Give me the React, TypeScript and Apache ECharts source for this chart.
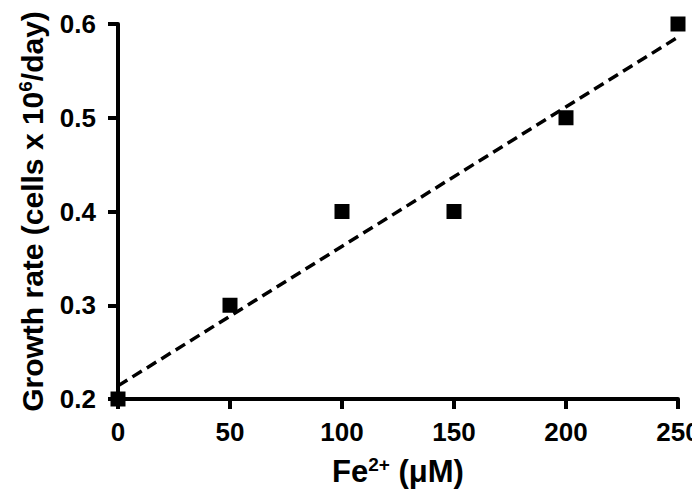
import React, { useEffect, useRef } from "react";
import * as echarts from "echarts";

const ironConc = [0, 50, 100, 150, 200, 250];
const growthRate = [0.2, 0.3, 0.4, 0.4, 0.5, 0.6];
const fitX = [0, 250];
const fitY = [0.214, 0.586];
const xTicks = [0, 50, 100, 150, 200, 250];
const yTicks = [0.2, 0.3, 0.4, 0.5, 0.6];

const FONT = "'Liberation Sans', Arial, sans-serif";

export default function App() {
  const ref = useRef<HTMLDivElement>(null);
  useEffect(() => {
    if (!ref.current) return;
    const chart = echarts.init(ref.current, null, { renderer: "svg" });
    chart.setOption({
      animation: false,
      grid: { left: 105, right: 30, top: 16, bottom: 111 },
      xAxis: {
        type: "value",
        min: xTicks[0],
        max: xTicks[xTicks.length - 1],
        interval: xTicks[1] - xTicks[0],
        axisLine: { show: true, lineStyle: { color: "#000", width: 4 } },
        axisTick: { show: true, length: 10, lineStyle: { color: "#000", width: 4 } },
        splitLine: { show: false },
        axisLabel: { color: "#000", fontFamily: FONT, fontWeight: "bold", fontSize: 26, margin: 20 },
        name: "Fe{sup|2+} {mu|(\u03bc}M)",
        nameLocation: "middle",
        nameGap: 56,
        nameTextStyle: {
          color: "#000",
          fontFamily: FONT,
          fontWeight: "bold",
          fontSize: 31,
          rich: {
            sup: { fontSize: 19, fontWeight: "bold", fontFamily: FONT, color: "#000", verticalAlign: "bottom", padding: [0, 0, 13, 0] },
            mu: { fontSize: 31, fontWeight: "bold", fontFamily: FONT, color: "#000" },
          },
        },
      },
      yAxis: {
        type: "value",
        min: yTicks[0],
        max: yTicks[yTicks.length - 1],
        interval: 0.1,
        axisLine: { show: true, lineStyle: { color: "#000", width: 4 } },
        axisTick: { show: true, length: 10, lineStyle: { color: "#000", width: 4 } },
        splitLine: { show: false },
        axisLabel: {
          color: "#000",
          fontFamily: FONT,
          fontWeight: "bold",
          fontSize: 26,
          margin: 22,
        },
        name: "Growth rate (cells x 10{sup|6}/day)",
        nameLocation: "middle",
        nameGap: 70,
        nameTextStyle: {
          color: "#000",
          fontFamily: FONT,
          fontWeight: "bold",
          fontSize: 30,
          rich: {
            sup: { fontSize: 19, fontWeight: "bold", fontFamily: FONT, color: "#000", verticalAlign: "bottom", padding: [0, 0, 13, 0] },
          },
        },
      },
      series: [
        {
          type: "line",
          data: fitX.map((x, i) => [x, fitY[i]]),
          showSymbol: false,
          symbol: "none",
          lineStyle: { color: "#000", width: 3.5, type: [11, 6] },
          z: 2,
          silent: true,
        },
        {
          type: "scatter",
          data: ironConc.map((x, i) => [x, growthRate[i]]),
          symbol: "rect",
          symbolSize: 15,
          itemStyle: { color: "#000", opacity: 1 },
          z: 3,
        },
      ],
    });
    return () => chart.dispose();
  }, []);
  return <div ref={ref} style={{ width: 700, height: 502 }} />;
}
